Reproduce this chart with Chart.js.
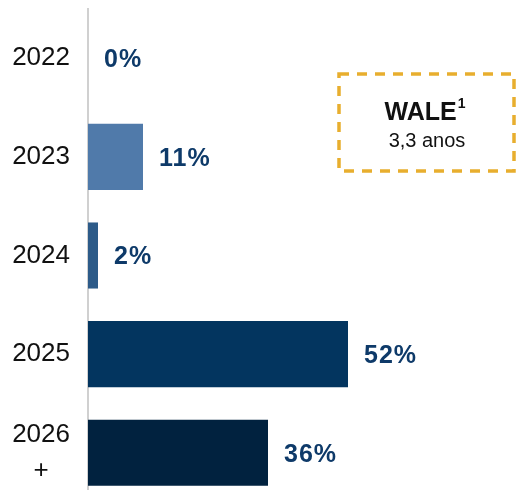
<!DOCTYPE html>
<html>
<head>
<meta charset="utf-8">
<script src="https://cdn.jsdelivr.net/npm/chart.js@4"></script>
<style>
  html, body { margin: 0; padding: 0; background: #fff; overflow: hidden; }
  #wrap { width: 517px; height: 490px; overflow: hidden; position: relative; }
  canvas { display: block; }
</style>
</head>
<body>
<div id="wrap">
  <canvas id="expiryChart" width="517" height="505"></canvas>
</div>
<script>
// Data
const years = ['2022', '2023', '2024', '2025', ['2026', '+']];
const shares = [0, 11, 2, 52, 36];
const barColors = ['#507aaa', '#507aaa', '#2d5b89', '#03355f', '#01223f'];
const waleTitle = 'WALE';
const waleNote = '1';
const waleValue = '3,3 anos';

// value labels next to each bar
const valueLabels = {
    id: 'valueLabels',
    afterDatasetsDraw(chart) {
        const ctx = chart.ctx;
        const meta = chart.getDatasetMeta(0);
        ctx.save();
        ctx.font = 'bold 25px "Liberation Sans", Arial, sans-serif';
        ctx.fillStyle = '#0e3a69';
        ctx.textAlign = 'left';
        ctx.textBaseline = 'middle';
        ctx.letterSpacing = '1px';
        meta.data.forEach((bar, i) => {
            ctx.fillText(shares[i] + '%', bar.x + 16, bar.y + 2);
        });
        ctx.restore();
    }
};

// dashed WALE box
const waleBox = {
    id: 'waleBox',
    afterDraw(chart) {
        const ctx = chart.ctx;
        ctx.save();
        ctx.strokeStyle = '#e8ae2e';
        ctx.lineWidth = 3.5;
        ctx.setLineDash([10, 8]);
        ctx.strokeRect(339, 74, 175, 97);
        ctx.setLineDash([]);

        ctx.fillStyle = '#111';
        ctx.textBaseline = 'alphabetic';
        ctx.font = 'bold 25px "Liberation Sans", Arial, sans-serif';
        const w1 = ctx.measureText(waleTitle).width;
        ctx.font = 'bold 14px "Liberation Sans", Arial, sans-serif';
        const w2 = ctx.measureText(waleNote).width;
        const startX = 425 - (w1 + w2 + 1) / 2;
        ctx.font = 'bold 25px "Liberation Sans", Arial, sans-serif';
        ctx.textAlign = 'left';
        ctx.fillText(waleTitle, startX, 120);
        ctx.font = 'bold 14px "Liberation Sans", Arial, sans-serif';
        ctx.fillText(waleNote, startX + w1 + 1, 108);

        ctx.font = '20px "Liberation Sans", Arial, sans-serif';
        ctx.textAlign = 'center';
        ctx.fillText(waleValue, 427, 147);
        ctx.restore();
    }
};

new Chart(document.getElementById('expiryChart'), {
    type: 'bar',
    data: {
        labels: years,
        datasets: [{
            data: shares,
            backgroundColor: barColors,
            borderWidth: 0,
            barPercentage: 0.67,
            categoryPercentage: 1
        }]
    },
    options: {
        indexAxis: 'y',
        responsive: false,
        animation: false,
        events: [],
        layout: { padding: { top: 9, bottom: 3, left: 0, right: 4 } },
        plugins: {
            legend: { display: false },
            tooltip: { enabled: false }
        },
        scales: {
            x: {
                display: false,
                min: 0,
                max: 85
            },
            y: {
                afterFit(scale) {
                    scale.width = 88;
                    scale.paddingTop = 0;
                    scale.paddingBottom = 0;
                },
                grid: { display: false },
                border: { display: true, color: '#d0d0d0', width: 2 },
                ticks: {
                    color: '#111',
                    padding: 10,
                    crossAlign: 'center',
                    font: { family: '"Liberation Sans", Arial, sans-serif', size: 26, lineHeight: 1.38 }
                }
            }
        }
    },
    plugins: [valueLabels, waleBox]
});
</script>
</body>
</html>
